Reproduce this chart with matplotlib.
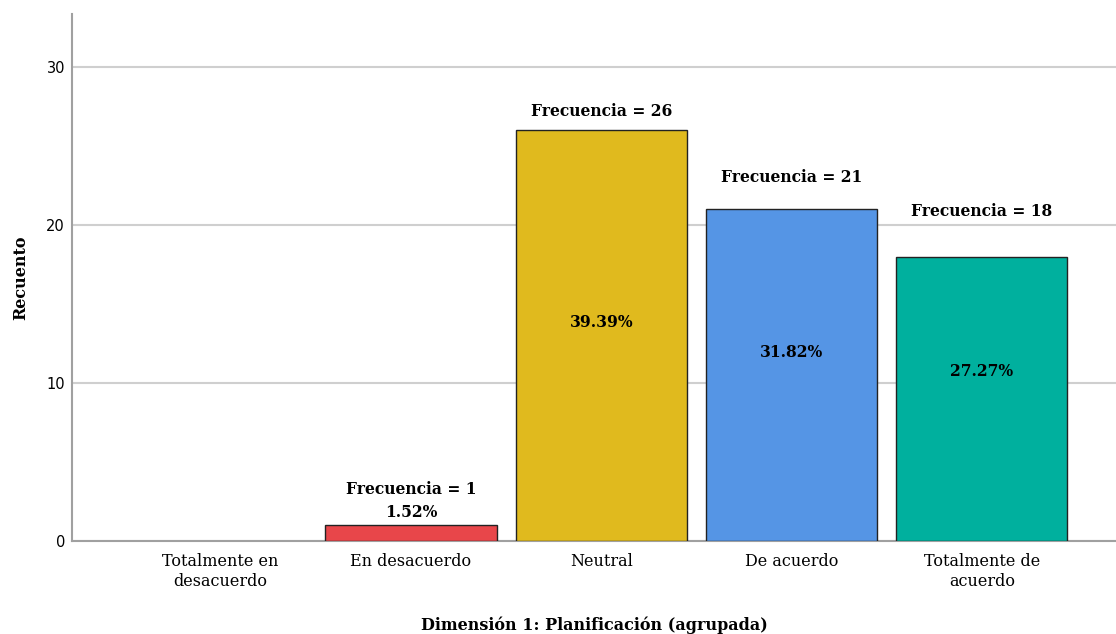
import matplotlib
matplotlib.use("Agg")
import matplotlib.pyplot as plt

categories = ["Totalmente en\ndesacuerdo", "En desacuerdo", "Neutral", "De acuerdo", "Totalmente de\nacuerdo"]
counts = [0, 1, 26, 21, 18]
percents = [None, 1.52, 39.39, 31.82, 27.27]
colors = ["#e8464a", "#e8464a", "#e0ba1e", "#5595e5", "#00b09e"]

# vertical placement of the annotations (in count units)
freq_label_y = [None, 3.25, 27.2, 23.0, 20.85]
pct_label_y = [None, 1.8, 13.85, 11.95, 10.7]

serif = "DejaVu Serif"

fig = plt.figure(figsize=(11.16, 6.34), dpi=100)
ax = fig.add_axes([72 / 1116, 93 / 634, 1 - 72 / 1116, (541 - 14) / 634])

x = list(range(len(categories)))
for i, (c, col) in enumerate(zip(counts, colors)):
    if c > 0:
        ax.bar(i, c, width=0.9, color=col, edgecolor="#222222", linewidth=1.0, zorder=3)

for i in x:
    if counts[i] == 0:
        continue
    ax.text(i, freq_label_y[i], f"Frecuencia = {counts[i]}", ha="center", va="center",
            fontsize=11.2, fontweight="bold", family=serif, zorder=4)
    ax.text(i, pct_label_y[i], f"{percents[i]:.2f}%", ha="center", va="center",
            fontsize=11.2, fontweight="bold", family=serif, zorder=4)

ax.set_xlim(-0.781, 4.705)
ax.set_ylim(0, 33.35)
ax.set_yticks([0, 10, 20, 30])
ax.set_xticks(x)
ax.set_xticklabels(categories, family=serif, fontsize=11.5, linespacing=1.2)
ax.tick_params(axis="x", length=0, pad=9)
ax.tick_params(axis="y", length=0, pad=5, labelsize=10.5)

ax.yaxis.grid(True, color="#cfcfcf", linewidth=1.5, zorder=0)
ax.set_axisbelow(True)

for s in ["top", "right"]:
    ax.spines[s].set_visible(False)
ax.spines["left"].set_color("#a0a0a0")
ax.spines["left"].set_linewidth(1.5)
ax.spines["bottom"].set_color("#a0a0a0")
ax.spines["bottom"].set_linewidth(1.5)

ax.set_xlabel("Dimensión 1: Planificación (agrupada)", family=serif, fontsize=11.5,
              fontweight="bold", labelpad=19)
ax.set_ylabel("Recuento", family=serif, fontsize=11.5, fontweight="bold", labelpad=12)

fig.savefig("out.png", dpi=100)
